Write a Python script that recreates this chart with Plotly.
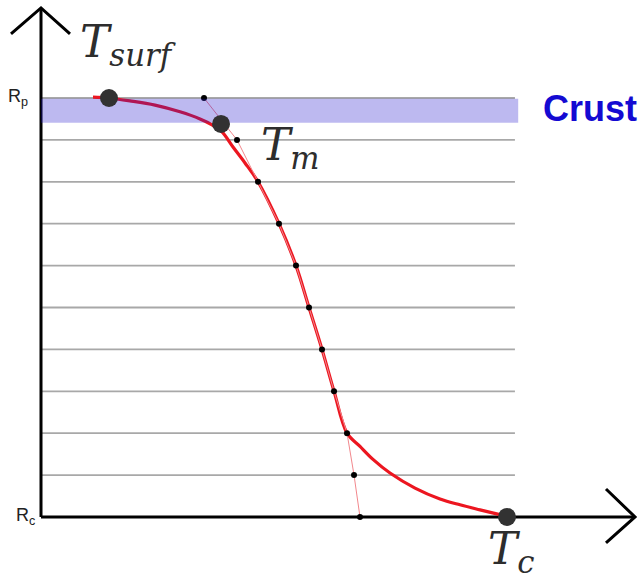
import plotly.graph_objects as go

# ---------------- data (arbitrary units) ----------------
# radius levels: 0 = R_c (core boundary), 10 = R_p (planet surface)
grid_levels = [1, 2, 3, 4, 5, 6, 7, 8, 9, 10]
grid_T_end = 101.7

# discretised nodes (thin pink polyline with small black dots), level 10 -> 0
node_r = [10, 9, 8, 7, 6, 5, 4, 3, 2, 1, 0]
node_T = [34.98, 42.06, 46.57, 51.07, 54.72, 57.51, 60.30, 62.88, 65.67, 67.17, 68.45]

# temperature profile (red curve)
prof_T = [11.16, 14.38, 19.10, 24.46, 29.83, 34.12, 36.70, 38.84, 41.20, 43.78,
          46.57, 51.07, 54.72, 57.51, 60.30, 62.88, 65.67, 68.45, 71.24, 74.89,
          80.26, 85.62, 89.91, 94.21, 99.79]
prof_r = [10.02, 10.00, 9.93, 9.83, 9.67, 9.50, 9.36, 9.19, 8.83, 8.45,
          8.00, 7.00, 6.00, 5.00, 4.00, 3.00, 2.00, 1.685, 1.375, 1.05,
          0.69, 0.43, 0.29, 0.17, 0.02]

# key temperatures
key_names = ["surf", "m", "c"]
key_T = [14.59, 38.63, 100.0]
key_r = [10.0, 9.38, 0.0]

# crust layer
crust_r = [9.41, 9.98]
crust_T = [0.0, 102.4]

# axes
y_axis_top = 12.15
x_axis_end = 127.47

# ---------------- figure ----------------
fig = go.Figure()

# grid lines
gx, gy = [], []
for lv in grid_levels:
    gx += [0, grid_T_end, None]
    gy += [lv, lv, None]
fig.add_trace(go.Scatter(x=gx, y=gy, mode="lines",
                         line=dict(color="#a8a8a8", width=1.8), hoverinfo="skip"))

# axes with arrow heads
ax_col = "black"
fig.add_trace(go.Scatter(x=[0, 0, None, 0, x_axis_end], y=[0, y_axis_top, None, 0, 0],
                         mode="lines", line=dict(color=ax_col, width=3), hoverinfo="skip"))
fig.add_trace(go.Scatter(x=[-6.44, 0, 6.22], y=[11.53, y_axis_top, 11.53], mode="lines",
                         line=dict(color=ax_col, width=3), hoverinfo="skip"))
fig.add_trace(go.Scatter(x=[121.24, x_axis_end, 121.24], y=[0.668, 0, -0.62], mode="lines",
                         line=dict(color=ax_col, width=3), hoverinfo="skip"))

# red profile
fig.add_trace(go.Scatter(x=prof_T, y=prof_r, mode="lines",
                         line=dict(color="rgb(236,22,32)", width=3.2, shape="spline", smoothing=1.0),
                         hoverinfo="skip"))

# pink node polyline + black dots
fig.add_trace(go.Scatter(x=node_T, y=node_r, mode="lines",
                         line=dict(color="rgb(242,135,140)", width=1), hoverinfo="skip"))
fig.add_trace(go.Scatter(x=node_T, y=node_r, mode="markers",
                         marker=dict(color="black", size=6), hoverinfo="skip"))

# crust band (semi-transparent)
fig.add_trace(go.Scatter(x=[crust_T[0], crust_T[1], crust_T[1], crust_T[0], crust_T[0]],
                         y=[crust_r[0], crust_r[0], crust_r[1], crust_r[1], crust_r[0]],
                         mode="lines", fill="toself", fillcolor="rgba(35,22,205,0.3)",
                         line=dict(width=0, color="rgba(0,0,0,0)"), hoverinfo="skip"))

# key temperature points
fig.add_trace(go.Scatter(x=key_T, y=key_r, mode="markers",
                         marker=dict(color="rgb(50,50,50)", size=18), hoverinfo="skip"))

# ---------------- labels ----------------
serif = "DejaVu Serif"
lab_col = "rgb(45,45,45)"
lab_pos = [(7.94, 11.28), (46.78, 8.82), (95.49, -0.82)]
for (tx, ty), name in zip(lab_pos, key_names):
    fig.add_annotation(x=tx, y=ty, text="<i>T<sub>" + name + "</sub></i>", showarrow=False,
                       xanchor="left", yanchor="middle",
                       font=dict(family=serif, size=44, color=lab_col))

fig.add_annotation(x=117.8, y=9.76, text="<b>Crust</b>", showarrow=False,
                   xanchor="center", yanchor="middle",
                   font=dict(family="Liberation Sans", size=36, color="rgb(20,10,210)"))
fig.add_annotation(x=-4.94, y=10.02, text="R<sub>p</sub>", showarrow=False,
                   xanchor="center", yanchor="middle",
                   font=dict(family="Liberation Sans", size=18, color="#222"))
fig.add_annotation(x=-3.43, y=0.02, text="R<sub>c</sub>", showarrow=False,
                   xanchor="center", yanchor="middle",
                   font=dict(family="Liberation Sans", size=18, color="#222"))

fig.update_layout(
    width=643, height=580, margin=dict(l=0, r=0, t=0, b=0),
    paper_bgcolor="white", plot_bgcolor="white", showlegend=False, hovermode=False,
    xaxis=dict(range=[-8.798, 129.18], visible=False, fixedrange=True),
    yaxis=dict(range=[-1.504, 12.339], visible=False, fixedrange=True),
)

fig.write_html("out.html")
